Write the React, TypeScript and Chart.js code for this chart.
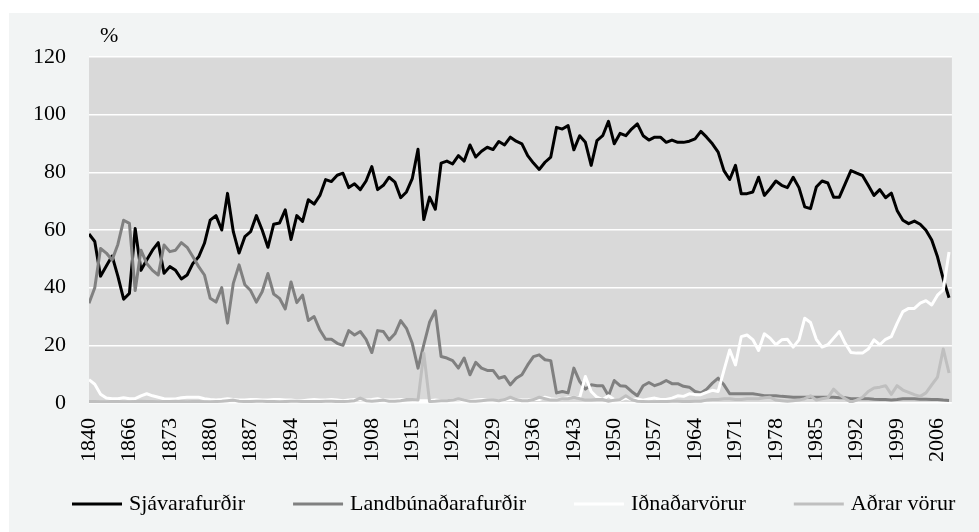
import React, { useEffect, useRef } from 'react';
import { Chart, registerables } from 'chart.js';

Chart.register(...registerables);

// Categories: a few early benchmark years, then annual from 1866 to 2008
const earlyYears: string[] = ['1840', '1849', '1855', '1858', '1861', '1863', '1865'];
const annualYears: string[] = Array.from({ length: 2008 - 1866 + 1 }, (_, k) => String(1866 + k));
const years: string[] = [...earlyYears, ...annualYears];

const seriesNames = ['Sjávarafurðir', 'Landbúnaðarafurðir', 'Iðnaðarvörur', 'Aðrar vörur'];

// Sjávarafurðir (%)
const sjavarafurdir: number[] = [
  58.6, 56, 44, 47.5, 51, 44, 36, 38, 60.5, 46,
  49.6, 53, 55.6, 45, 47.3, 46, 43, 44.4, 48.4, 50.7,
  55.4, 63.4, 65, 60, 72.7, 59.4, 52, 57.7, 59.4, 65,
  60, 54, 62, 62.4, 67, 56.7, 65, 63, 70.5, 69,
  72, 77.5, 76.8, 79, 79.7, 74.7, 76, 74, 77, 82,
  74, 75.5, 78.3, 76.6, 71.2, 73.2, 77.8, 88, 63.6, 71.4,
  67.2, 83.2, 83.9, 82.9, 85.8, 83.9, 89.5, 85.3, 87.3, 88.7,
  87.9, 90.7, 89.5, 92.2, 90.8, 89.9, 85.8, 83.2, 81, 83.5,
  85.3, 95.6, 95, 96.2, 87.8, 92.7, 90.4, 82.4, 91, 92.7,
  97.7, 89.9, 93.5, 92.7, 95, 96.8, 92.7, 91.2, 92.2, 92.2,
  90.4, 91.2, 90.4, 90.4, 90.8, 91.6, 94.2, 92.2, 89.9, 87,
  80.6, 77.5, 82.4, 72.6, 72.6, 73.2, 78.3, 72, 74.3, 77,
  75.5, 74.7, 78.3, 74.7, 68, 67.4, 74.9, 77, 76.3, 71.4,
  71.4, 76, 80.6, 79.7, 78.9, 75.5, 72, 74, 71.2, 72.8,
  66.8, 63.4, 62.2, 63.1, 62, 59.9, 56.5, 50.7, 43, 36.5,
];

// Landbúnaðarafurðir (%)
const landbunadarafurdir: number[] = [
  34.6, 40, 53.6, 52, 49.6, 55, 63.4, 62.3, 39, 53,
  48.4, 46, 44.4, 54.8, 52.5, 53, 55.6, 54, 50.7, 47.3,
  44.4, 36.3, 35, 40, 27.7, 41.5, 47.9, 41, 39, 35,
  38.6, 44.9, 37.8, 36.3, 32.6, 42, 34.8, 37.4, 28.6, 30,
  25.3, 22.1, 22.1, 20.7, 20, 25.1, 23.6, 24.8, 22.1, 17.5,
  25.1, 24.8, 21.9, 24, 28.6, 25.9, 20.7, 12.1, 20.2, 28,
  32, 16.1, 15.6, 14.7, 12.1, 15.6, 9.8, 14.1, 12.1, 11.3,
  11.3, 8.6, 9.2, 6.3, 8.6, 9.8, 13.2, 16.1, 16.7, 15,
  14.7, 3.5, 4, 3.5, 12.1, 7.5, 4.8, 6.3, 6, 6,
  2.5, 7.8, 6, 5.8, 4, 2.5, 6, 7.1, 6, 6.7,
  7.8, 6.7, 6.7, 5.8, 5.5, 4, 3.5, 4.8, 6.9, 8.6,
  6.3, 3.2, 3.2, 3.2, 3.2, 3.2, 2.9, 2.5, 2.5, 2.5,
  2.3, 2.2, 2, 2, 2, 2, 2, 2, 2, 2,
  1.8, 1.8, 1.5, 1.5, 1.5, 1.5, 1.3, 1.2, 1.2, 1,
  1.2, 1.5, 1.5, 1.5, 1.3, 1.3, 1.2, 1.2, 1, 0.9,
];

// Iðnaðarvörur (%)
const idnadarvorur: number[] = [
  8.1, 6.5, 3, 1.7, 1.5, 1.5, 1.8, 1.5, 1.5, 2.5,
  3.2, 2.5, 2, 1.5, 1.4, 1.4, 1.8, 2, 2, 2,
  1.5, 1.2, 1, 1.2, 1.5, 1.2, 1, 1, 1.2, 1.2,
  1, 1, 1.2, 1.2, 1, 1, 0.8, 0.8, 1, 1.2,
  1, 1, 1.2, 1, 0.8, 1, 1.2, 1, 1, 1.2,
  1.5, 1, 1, 1, 1.2, 1.2, 1, 0.8, 0.8, 0.8,
  1, 0.8, 0.8, 1, 1, 0.8, 0.8, 1, 1.2, 1,
  0.8, 0.8, 1, 1.2, 1.2, 1, 1, 1.2, 1.2, 2,
  1.5, 1.2, 1.5, 1.8, 2, 1.8, 9.2, 4, 2, 1.2,
  2.5, 1.2, 1, 1.7, 1.2, 1.4, 1, 1.4, 1.7, 1.2,
  1.2, 1.7, 2.5, 2.3, 3.2, 2.9, 2.9, 3.7, 4.4, 4,
  11.3, 18.4, 13.2, 23, 23.6, 22, 18.2, 24, 22.5, 20.2,
  21.9, 22.1, 19.4, 21.9, 29.4, 27.9, 22.1, 19.4, 20.2, 22.5,
  24.8, 20.7, 17.5, 17.3, 17.3, 18.7, 21.9, 20.2, 22.1, 23,
  27.6, 31.7, 32.8, 32.8, 34.6, 35.5, 34, 37.4, 39.2, 52.4,
];

// Aðrar vörur (%)
const adrarVorur: number[] = [
  0.5, 0.5, 0.4, 0.4, 0.5, 0.5, 0.4, 0.4, 0.5, 0.6,
  0.5, 0.5, 0.4, 0.5, 0.5, 0.6, 0.5, 0.4, 0.5, 0.5,
  0.4, 0.4, 0.5, 0.6, 0.8, 1, 0.6, 0.5, 0.5, 0.6,
  0.6, 0.5, 0.5, 0.4, 0.5, 0.6, 0.6, 0.5, 0.5, 0.5,
  0.5, 0.6, 0.6, 0.5, 0.5, 0.6, 0.8, 1.7, 0.8, 0.6,
  0.8, 1, 0.6, 0.6, 0.8, 1.2, 1.2, 1, 17.3, 0.5,
  0.6, 0.8, 0.8, 1, 1.5, 1, 0.6, 0.6, 0.8, 1,
  1, 0.8, 1.2, 2, 1.2, 0.8, 0.8, 1.2, 2, 1.5,
  1, 1, 1.5, 1.5, 2, 1.5, 1, 1, 1.2, 1.2,
  0.6, 1, 1.2, 2.5, 1.2, 0.6, 0.5, 0.4, 0.4, 0.5,
  0.5, 0.6, 0.6, 0.5, 0.5, 0.6, 0.6, 1, 1.2, 1.2,
  1.5, 1.5, 1.2, 1.2, 1.5, 1.5, 1.5, 1.8, 2, 1,
  0.8, 0.6, 0.8, 1, 1.5, 2.5, 1, 1.5, 1.8, 4.8,
  2.9, 1.5, 0.3, 1, 2, 4, 5.2, 5.5, 6, 3,
  6, 4.5, 3.7, 2.9, 2.3, 3.5, 6.3, 9, 18.7, 10.4,
];

const yTicks: number[] = [0, 20, 40, 60, 80, 100, 120];
const X_LABEL_EVERY = 7;

const FONT = '"Liberation Serif", "Times New Roman", serif';
const FONT_SIZE = 22;
const COLORS = ['#000000', '#808080', '#ffffff', '#bfbfbf'];

export default function App() {
  const ref = useRef<HTMLCanvasElement | null>(null);

  useEffect(() => {
    if (!ref.current) return;
    const series = [sjavarafurdir, landbunadarafurdir, idnadarvorur, adrarVorur];

    const bgPlugin = {
      id: 'plotBg',
      beforeDraw(chart: any) {
        const { ctx, chartArea } = chart;
        ctx.save();
        ctx.fillStyle = '#d9d9d9';
        ctx.fillRect(chartArea.left, chartArea.top, chartArea.right - chartArea.left, chartArea.bottom - chartArea.top);
        ctx.restore();
      },
      afterDraw(chart: any) {
        const { ctx, chartArea } = chart;
        ctx.save();
        ctx.font = `${FONT_SIZE}px ${FONT}`;
        ctx.fillStyle = '#000';
        ctx.textBaseline = 'middle';
        ctx.textAlign = 'left';
        ctx.fillText('%', chartArea.left + 11, chartArea.top - 21);

        // legend
        let x = 63;
        const y = 491;
        chart.data.datasets.forEach((ds: any) => {
          ctx.strokeStyle = ds.borderColor;
          ctx.lineWidth = 3;
          ctx.beginPath();
          ctx.moveTo(x, y);
          ctx.lineTo(x + 50, y);
          ctx.stroke();
          x += 57;
          ctx.fillStyle = '#000';
          ctx.fillText(ds.label, x, y);
          x += ctx.measureText(ds.label).width + 48;
        });
        ctx.restore();
      },
    };

    const chart = new Chart(ref.current, {
      type: 'line',
      data: {
        datasets: series.map((vals, k) => ({
          label: seriesNames[k],
          data: vals.map((v, i) => ({ x: i, y: v })),
          borderColor: COLORS[k],
          backgroundColor: COLORS[k],
          borderWidth: 3,
          pointRadius: 0,
          tension: 0,
          fill: false,
          borderJoinStyle: 'round' as const,
          order: 4 - k,
        })),
      },
      options: {
        animation: false,
        responsive: false,
        layout: { padding: { top: 44, right: 6, bottom: 59, left: 0 } },
        plugins: {
          legend: { display: false },
          tooltip: { enabled: false },
          title: { display: false },
        },
        scales: {
          x: {
            type: 'linear',
            min: 0,
            max: years.length - 0.5,
            grid: { display: false, drawTicks: false },
            border: { display: false },
            afterBuildTicks: (s: any) => {
              s.ticks = years
                .map((_, i) => i)
                .filter((i) => i % X_LABEL_EVERY === 0)
                .map((i) => ({ value: i }));
            },
            afterFit: (s: any) => {
              s.height = 70;
            },
            ticks: {
              autoSkip: false,
              minRotation: 90,
              maxRotation: 90,
              padding: 15,
              color: '#000',
              font: { family: FONT, size: FONT_SIZE },
              callback: (v: any) => years[v as number] ?? '',
            },
          },
          y: {
            min: 0,
            max: 120,
            afterBuildTicks: (s: any) => {
              s.ticks = yTicks.map((v) => ({ value: v }));
            },
            afterFit: (s: any) => {
              s.width = 80;
            },
            grid: { color: '#ffffff', lineWidth: 1.5, drawTicks: false },
            border: { display: false },
            ticks: {
              padding: 23,
              color: '#000',
              font: { family: FONT, size: FONT_SIZE },
            },
          },
        },
      },
      plugins: [bgPlugin],
    });

    return () => chart.destroy();
  }, []);

  return (
    <div
      style={{
        position: 'absolute',
        left: 9,
        top: 13,
        width: 970,
        height: 519,
        background: '#f2f4f4',
      }}
    >
      <canvas ref={ref} width={970} height={519} style={{ display: 'block' }} />
    </div>
  );
}
